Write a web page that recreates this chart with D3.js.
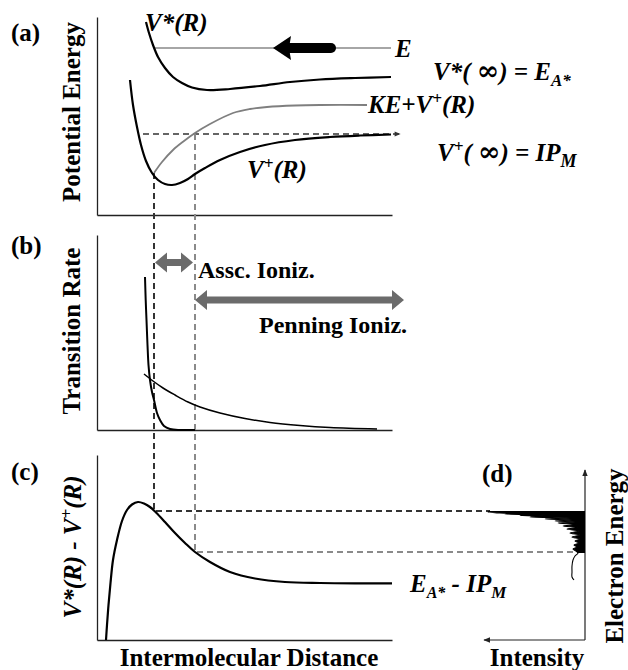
<!DOCTYPE html>
<html><head><meta charset="utf-8">
<script src="https://cdn.jsdelivr.net/npm/d3@7"></script>
<style>
html,body{margin:0;padding:0;background:#fff;}
svg text{font-family:"Liberation Serif","Times New Roman",serif;font-weight:bold;}
</style></head>
<body><svg id="c" width="628" height="670"></svg>
<script>
// ---------- data ----------
// (a) potential curves: R in arbitrary distance units, energy in arbitrary units
const vStarR = [9.8,10.4,11.2,12.2,13.6,15.2,17,19,22,26.6,32.6,38.6,44.6,51.6,58.8];
const vStarE = [38.6,36.4,34,31.6,29.4,27.6,26.4,25.5,25,25.2,25.8,26.6,27.1,27.4,27.6];
const vPlusR = [6.6,7.2,8,8.8,9.8,11,12.2,13.6,15,16.6,18.2,19.6,21.6,24.6,28.6,33.6,39.6,46.6,52.6,58.8];
const vPlusE = [27,22,17.6,14,10.8,8.4,7,6.2,6,6.4,7.2,8.2,9.4,11,12.6,14,15,15.6,15.9,16.1];
const keR = [11.4,13,15.2,17.4,19.6,22.6,27.2,30.6,34,39.6,44.6,54];
const keE = [8.4,10.6,13,14.8,16.4,18.2,20.4,21.2,21.6,21.9,22,22];
const beamE = 33.4, beamR0 = 11.6, beamR1 = 58.8;
const arrowTipR = 35.2, arrowEndR = 47.8;
const ipE = 16.2, ipR0 = 9.2, ipR1 = 60.6;
const rAssc = 11.4, rCross = 19.6;
// (b) transition rates
const asscRateR = [9.6,9.74,9.9,10.1,10.3,10.6,11,11.4,12,12.6,13.4,14.6,16.6,19.6];
const asscRateV = [30.6,26,22,17,13,10,7.6,6,3.4,2,0.8,0.2,0,0];
const penRateR = [9.4,11.2,13.2,15.6,18.2,20.6,24.6,29.6,34.6,40.6,46.6,56];
const penRateV = [11.2,9.8,8.4,7,5.6,4.6,3.4,2.3,1.5,0.9,0.5,0.2];
const asscArrowY = 33.5, penArrowY = 26, penArrowR1 = 61.4, asscArrowR0 = 11.6, asscArrowR1 = 19.2;
// (c) difference potential
const diffR = [1.8,2,2.3,2.7,3.2,4,5,6,7,8.2,9.4,10.6,11.8,13.6,15.6,17.6,19.6,22.6,26.6,31.6,37.6,44.6,52.6,59];
const diffV = [0,3,7,11.4,16,20,23.8,26,27.1,27.6,27.3,26.6,25.5,23.6,21.4,19.4,17.6,15.6,13.6,12.3,11.6,11.4,11.34,11.34];
const diffHigh = 25.8, diffLow = 17.6;
// (d) electron spectrum: energy (same scale as c) and intensity
const specE = [25.8,25.6,25.4,25.3,25.2,25,24.9,24.7,24.6,24.4,24.2,24,23.8,23.6,23.4,23.1,22.8,22.5,22.2,21.8,21.4,21,20.6,20.2,19.8,19.4,19,18.6,18.2,17.8,17.4,16.8,16,14.8,13.6,12.6,12];
const specI = [95,97,85,25,80,40,65,25,55,15,40,13,30,10,27,8,22,7,18,6,15,5,13,5,10,6,11,8,12,9,7,10,12,13,13,13,11];

// ---------- scales ----------
const svg = d3.select("#c");
const x  = d3.scaleLinear().domain([0,59]).range([97,392]);
const yA = d3.scaleLinear().domain([0,39.6]).range([215,17]);
const yB = d3.scaleLinear().domain([0,39]).range([430,235]);
const yC = d3.scaleLinear().domain([0,37]).range([640,455]);
const xD = d3.scaleLinear().domain([0,100]).range([585,485]);

const defs = svg.append("defs");
function marker(id, color, w, h){
  defs.append("marker").attr("id",id).attr("viewBox","0 0 10 10").attr("refX",9).attr("refY",5)
    .attr("markerWidth",w).attr("markerHeight",h).attr("markerUnits","userSpaceOnUse").attr("orient","auto")
    .append("path").attr("d","M0,1 L10,5 L0,9 Z").attr("fill",color);
}
marker("arrSmall","#222",7,7);
marker("arrDash","#333",7,6);

const zip = (a,b)=>a.map((v,i)=>[v,b[i]]);
const line = (sx,sy)=>d3.line().x(d=>sx(d[0])).y(d=>sy(d[1])).curve(d3.curveCatmullRom.alpha(0.5));

// ---------- axes (no ticks) ----------
function axes(sy){
  svg.append("g").attr("transform",`translate(0,${sy.range()[0]})`)
    .call(d3.axisBottom(x).tickValues([]).tickSizeOuter(0))
    .select(".domain").attr("stroke","#222").attr("stroke-width",1.3);
  svg.append("g").attr("transform",`translate(${x.range()[0]},0)`)
    .call(d3.axisLeft(sy).tickValues([]).tickSizeOuter(0))
    .select(".domain").attr("stroke","#222").attr("stroke-width",1.3);
}
axes(yA); axes(yB); axes(yC);
// (d) axes with arrows
svg.append("line").attr("x1",xD(0)).attr("y1",yC(0)).attr("x2",xD(0)).attr("y2",yC(34))
  .attr("stroke","#222").attr("stroke-width",1.2).attr("marker-end","url(#arrSmall)");
svg.append("line").attr("x1",xD(0)).attr("y1",yC(0)).attr("x2",xD(101)).attr("y2",yC(0))
  .attr("stroke","#222").attr("stroke-width",1.2).attr("marker-end","url(#arrSmall)");

// ---------- dashed guide lines ----------
const gray = "#8a8a8a";
svg.append("line").attr("x1",x(ipR0)).attr("x2",x(ipR1)).attr("y1",yA(ipE)).attr("y2",yA(ipE))
  .attr("stroke","#333").attr("stroke-width",1.6).attr("stroke-dasharray","6,4").attr("marker-end","url(#arrDash)");
svg.append("path").attr("fill","none").attr("stroke","#333").attr("stroke-width",2).attr("stroke-dasharray","6,4")
  .attr("d",`M${x(rAssc)},${yA(8.4)} V${yC(diffHigh)} H${xD(95)}`);
svg.append("path").attr("fill","none").attr("stroke",gray).attr("stroke-width",2).attr("stroke-dasharray","6,4")
  .attr("d",`M${x(rCross)},${yA(ipE)} V${yC(diffLow)} H${xD(0)}`);

// ---------- (a) curves ----------
svg.append("line").attr("x1",x(beamR0)).attr("x2",x(beamR1)).attr("y1",yA(beamE)).attr("y2",yA(beamE))
  .attr("stroke","#888").attr("stroke-width",1.6);
svg.append("path").datum(zip(vStarR,vStarE)).attr("d",line(x,yA)).attr("fill","none").attr("stroke","#000").attr("stroke-width",2.2);
svg.append("path").datum(zip(vPlusR,vPlusE)).attr("d",line(x,yA)).attr("fill","none").attr("stroke","#000").attr("stroke-width",2.2);
svg.append("path").datum(zip(keR,keE)).attr("d",line(x,yA)).attr("fill","none").attr("stroke","#7f7f7f").attr("stroke-width",1.8);
// thick black arrow on the E line
{
  const xt = x(arrowTipR), xe = x(arrowEndR), yy = yA(beamE);
  svg.append("line").attr("x1",xt+12).attr("x2",xe-5).attr("y1",yy).attr("y2",yy)
    .attr("stroke","#000").attr("stroke-width",10).attr("stroke-linecap","round");
  svg.append("path").attr("d",`M${xt},${yy} L${xt+18},${yy-12} L${xt+16},${yy} L${xt+18},${yy+12} Z`).attr("fill","#000");
}

// ---------- (b) curves ----------
svg.append("path").datum(zip(asscRateR,asscRateV)).attr("d",line(x,yB)).attr("fill","none").attr("stroke","#000").attr("stroke-width",2);
svg.append("path").datum(zip(penRateR,penRateV)).attr("d",line(x,yB)).attr("fill","none").attr("stroke","#000").attr("stroke-width",1.5);
function dblArrow(r0,r1,v){
  const x0=x(r0), x1=x(r1), yy=yB(v), hl=12, hh=10;
  svg.append("path").attr("fill","#6b6b6b").attr("d",
    `M${x0},${yy} L${x0+hl},${yy-hh} L${x0+hl},${yy-3.5} L${x1-hl},${yy-3.5} L${x1-hl},${yy-hh} L${x1},${yy} `+
    `L${x1-hl},${yy+hh} L${x1-hl},${yy+3.5} L${x0+hl},${yy+3.5} L${x0+hl},${yy+hh} Z`);
}
dblArrow(asscArrowR0,asscArrowR1,asscArrowY);
dblArrow(rCross,penArrowR1,penArrowY);

// ---------- (c) curve ----------
svg.append("path").datum(zip(diffR,diffV)).attr("d",line(x,yC)).attr("fill","none").attr("stroke","#000").attr("stroke-width",2.2);

// ---------- (d) spectrum ----------
const spec = zip(specE,specI);
svg.append("path").datum(spec.filter(d=>d[0]>=17.4))
  .attr("d",d3.area().y(d=>yC(d[0])).x0(xD(0)).x1(d=>xD(d[1])))
  .attr("fill","#000");
svg.append("path").datum(spec)
  .attr("d",d3.line().y(d=>yC(d[0])).x(d=>xD(d[1])).curve(d3.curveCatmullRom))
  .attr("fill","none").attr("stroke","#000").attr("stroke-width",1.1);

// ---------- text ----------
function txt(xp,yp,size,parts,opts={}){
  const t = svg.append("text").attr("x",xp).attr("y",yp).attr("font-size",size)
    .attr("font-family","'Liberation Serif','Times New Roman',serif").attr("font-weight","bold");
  if(opts.italic) t.attr("font-style","italic");
  if(opts.anchor) t.attr("text-anchor",opts.anchor);
  if(opts.rotate) t.attr("transform",`rotate(-90,${xp},${yp})`);
  parts.forEach(p=>{
    if(typeof p==="string"){ t.append("tspan").text(p); return; }
    const s = t.append("tspan").text(p.t);
    if(p.dy) s.attr("dy",p.dy);
    if(p.fs) s.attr("font-size",p.fs);
    if(p.ff) s.attr("font-family",p.ff);
    if(p.it===false) s.attr("font-style","normal");
  });
  return t;
}
// panel letters
txt(11,41,25,["(a)"]); txt(11,254,25,["(b)"]); txt(11,480,25,["(c)"]); txt(482,482,25,["(d)"]);
// axis titles
txt(80,112,25,["Potential Energy"],{rotate:true,anchor:"middle"});
txt(80,331,25,["Transition Rate"],{rotate:true,anchor:"middle"});
txt(81,547,25,["V*(",{t:"R"},") - V",{t:"+",dy:-9,fs:17},{t:"(R)",dy:9}],{rotate:true,anchor:"middle",italic:true});
txt(623,556,25,["Electron Energy"],{rotate:true,anchor:"middle"});
txt(249,666,25,["Intermolecular Distance"],{anchor:"middle"});
txt(537,666,25,["Intensity"],{anchor:"middle"});
// annotations
txt(145,31,25,["V*(R)"],{italic:true});
txt(395,57,25,["E"],{italic:true});
txt(433,80,25,["V*( ",{t:"∞",it:false,ff:"DejaVu Serif",fs:27},") = E",{t:"A*",dy:6,fs:17}],{italic:true});
txt(368,113,25,["KE+V",{t:"+",dy:-9,fs:17},{t:"(R)",dy:9}],{italic:true});
txt(437,161,25,["V",{t:"+",dy:-9,fs:17},{t:"( ",dy:9},{t:"∞",it:false,ff:"DejaVu Serif",fs:27},") = IP",{t:"M",dy:6,fs:18}],{italic:true});
txt(247,178,25,["V",{t:"+",dy:-9,fs:17},{t:"(R)",dy:9}],{italic:true});
txt(198,278,24,["Assc. Ioniz."]);
txt(259,333,24,["Penning Ioniz."]);
txt(410,592,25,["E",{t:"A*",dy:6,fs:16},{t:" - IP",dy:-6},{t:"M",dy:6,fs:17}],{italic:true});
</script></body></html>
